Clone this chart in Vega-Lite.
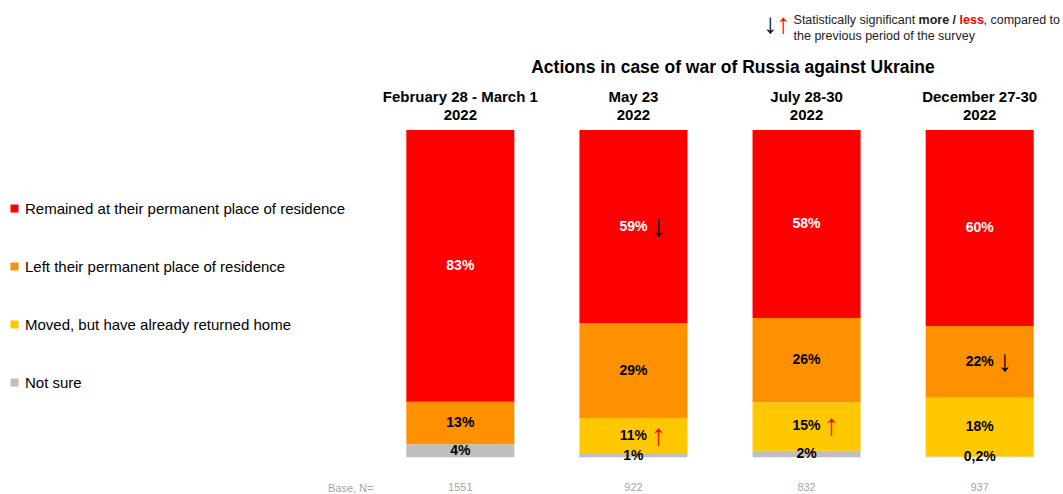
{
  "$schema": "https://vega.github.io/schema/vega-lite/v6.json",
  "width": 662,
  "height": 360,
  "autosize": {"type": "none"},
  "padding": {"left": 389, "top": 130, "right": 12, "bottom": 4},
  "title": {
    "text": "Actions in case of war of Russia against Ukraine",
    "fontSize": 17.5,
    "fontWeight": "bold",
    "color": "black",
    "anchor": "middle",
    "frame": "group",
    "dx": 13,
    "offset": -66
  },
  "datasets": {
    "shares": [
      {"period": "February 28 - March 1", "answer": "Not sure", "pct": 4, "label": "4%", "sig": ""},
      {"period": "February 28 - March 1", "answer": "Moved, but have already returned home", "pct": 0, "label": "", "sig": ""},
      {"period": "February 28 - March 1", "answer": "Left their permanent place of residence", "pct": 13, "label": "13%", "sig": ""},
      {"period": "February 28 - March 1", "answer": "Remained at their permanent place of residence", "pct": 83, "label": "83%", "sig": ""},
      {"period": "May 23", "answer": "Not sure", "pct": 1, "label": "1%", "sig": ""},
      {"period": "May 23", "answer": "Moved, but have already returned home", "pct": 11, "label": "11%", "sig": "↑"},
      {"period": "May 23", "answer": "Left their permanent place of residence", "pct": 29, "label": "29%", "sig": ""},
      {"period": "May 23", "answer": "Remained at their permanent place of residence", "pct": 59, "label": "59%", "sig": "↓"},
      {"period": "July 28-30", "answer": "Not sure", "pct": 2, "label": "2%", "sig": ""},
      {"period": "July 28-30", "answer": "Moved, but have already returned home", "pct": 15, "label": "15%", "sig": "↑"},
      {"period": "July 28-30", "answer": "Left their permanent place of residence", "pct": 26, "label": "26%", "sig": ""},
      {"period": "July 28-30", "answer": "Remained at their permanent place of residence", "pct": 58, "label": "58%", "sig": ""},
      {"period": "December 27-30", "answer": "Not sure", "pct": 0.2, "label": "0,2%", "sig": ""},
      {"period": "December 27-30", "answer": "Moved, but have already returned home", "pct": 18, "label": "18%", "sig": ""},
      {"period": "December 27-30", "answer": "Left their permanent place of residence", "pct": 22, "label": "22%", "sig": "↓"},
      {"period": "December 27-30", "answer": "Remained at their permanent place of residence", "pct": 60, "label": "60%", "sig": ""}
    ],
    "base": [
      {"period": "February 28 - March 1", "n": "1551"},
      {"period": "May 23", "n": "922"},
      {"period": "July 28-30", "n": "832"},
      {"period": "December 27-30", "n": "937"}
    ]
  },
  "encoding": {
    "x": {
      "field": "period",
      "type": "nominal",
      "sort": null,
      "scale": {"paddingInner": 0.376, "paddingOuter": 0.1},
      "axis": {
        "orient": "top",
        "title": null,
        "domain": false,
        "ticks": false,
        "labelAngle": 0,
        "labelFontSize": 15,
        "labelFontWeight": "bold",
        "labelColor": "black",
        "labelPadding": 26,
        "labelLineHeight": 18,
        "labelLimit": 220,
        "labelExpr": "[datum.label, '2022']"
      }
    }
  },
  "layer": [
    {
      "data": {"name": "shares"},
      "transform": [
        {"stack": "pct", "groupby": ["period"], "offset": "normalize", "as": ["lo", "hi"]},
        {"calculate": "(datum.lo + datum.hi) / 2", "as": "mid"}
      ],
      "layer": [
        {
          "mark": {"type": "bar"},
          "encoding": {
            "y": {
              "field": "hi",
              "type": "quantitative",
              "scale": {"domain": [-0.1, 1], "nice": false, "zero": false},
              "axis": {
                "values": [-0.094],
                "labelExpr": "'Base, N='",
                "title": null,
                "domain": false,
                "ticks": false,
                "grid": false,
                "labelFontSize": 11,
                "labelColor": "#a6a6a6",
                "labelPadding": 16
              }
            },
            "y2": {"field": "lo"},
            "color": {
              "field": "answer",
              "type": "nominal",
              "scale": {
                "domain": [
                  "Remained at their permanent place of residence",
                  "Left their permanent place of residence",
                  "Moved, but have already returned home",
                  "Not sure"
                ],
                "range": ["#ff0000", "#ff9000", "#ffc800", "#bfbfbf"]
              },
              "legend": {
                "orient": "none",
                "legendX": -382,
                "legendY": 71,
                "title": null,
                "symbolType": "square",
                "symbolSize": 64,
                "symbolStrokeWidth": 0,
                "labelFontSize": 15,
                "labelColor": "black",
                "labelOffset": 3,
                "labelLimit": 400,
                "rowPadding": 42
              }
            }
          }
        },
        {
          "mark": {"type": "text", "fontWeight": "bold", "fontSize": 14, "baseline": "middle"},
          "encoding": {
            "y": {"field": "mid", "type": "quantitative"},
            "text": {"field": "label"},
            "color": {
              "condition": {"test": "datum.answer === 'Remained at their permanent place of residence'", "value": "white"},
              "value": "black"
            }
          }
        },
        {
          "transform": [{"filter": "datum.sig !== ''"}],
          "mark": {"type": "text", "fontSize": 30, "baseline": "middle", "dx": 25},
          "encoding": {
            "y": {"field": "mid", "type": "quantitative"},
            "text": {"field": "sig"},
            "color": {
              "condition": {"test": "datum.sig === '↑'", "value": "#ff0000"},
              "value": "black"
            }
          }
        }
      ]
    },
    {
      "data": {"name": "base"},
      "mark": {"type": "text", "fontSize": 11, "color": "#a6a6a6", "baseline": "middle"},
      "encoding": {
        "y": {"datum": -0.094, "type": "quantitative"},
        "text": {"field": "n"}
      }
    },
    {
      "data": {"values": [{}]},
      "layer": [
        {
          "mark": {"type": "text", "fontSize": 28, "baseline": "middle", "dx": -36, "color": "black"},
          "encoding": {"x": {"datum": "July 28-30"}, "y": {"datum": 1.321, "type": "quantitative"}, "text": {"value": "↓"}}
        },
        {
          "mark": {"type": "text", "fontSize": 28, "baseline": "middle", "dx": -23, "color": "#ff0000"},
          "encoding": {"x": {"datum": "July 28-30"}, "y": {"datum": 1.321, "type": "quantitative"}, "text": {"value": "↑"}}
        },
        {
          "mark": {"type": "text", "fontSize": 12.5, "align": "left", "baseline": "middle", "dx": -13, "color": "#222222"},
          "encoding": {"x": {"datum": "July 28-30"}, "y": {"datum": 1.336, "type": "quantitative"}, "text": {"value": "Statistically significant"}}
        },
        {
          "mark": {"type": "text", "fontSize": 12.5, "fontWeight": "bold", "align": "left", "baseline": "middle", "dx": 112, "color": "#222222"},
          "encoding": {"x": {"datum": "July 28-30"}, "y": {"datum": 1.336, "type": "quantitative"}, "text": {"value": "more /"}}
        },
        {
          "mark": {"type": "text", "fontSize": 12.5, "fontWeight": "bold", "align": "left", "baseline": "middle", "dx": 153, "color": "#ff0000"},
          "encoding": {"x": {"datum": "July 28-30"}, "y": {"datum": 1.336, "type": "quantitative"}, "text": {"value": "less"}}
        },
        {
          "mark": {"type": "text", "fontSize": 12.5, "align": "left", "baseline": "middle", "dx": 177, "color": "#222222"},
          "encoding": {"x": {"datum": "July 28-30"}, "y": {"datum": 1.336, "type": "quantitative"}, "text": {"value": ", compared to"}}
        },
        {
          "mark": {"type": "text", "fontSize": 12.5, "align": "left", "baseline": "middle", "dx": -13, "color": "#222222"},
          "encoding": {"x": {"datum": "July 28-30"}, "y": {"datum": 1.287, "type": "quantitative"}, "text": {"value": "the previous period of the survey"}}
        }
      ]
    }
  ],
  "config": {
    "font": "Liberation Sans",
    "view": {"stroke": null}
  }
}
